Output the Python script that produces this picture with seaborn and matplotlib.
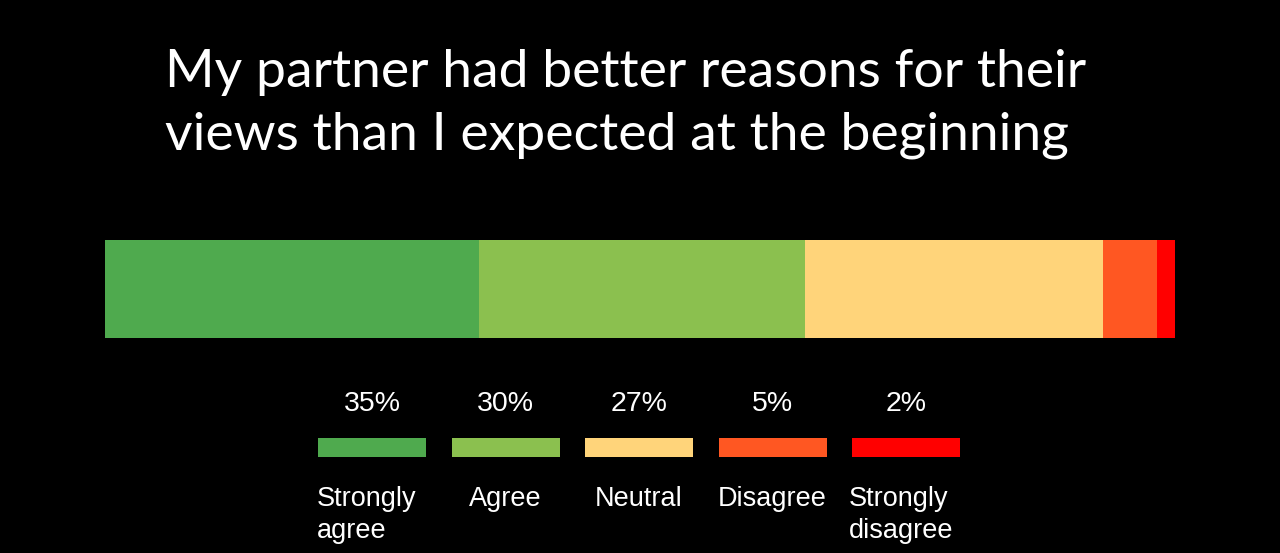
import matplotlib
matplotlib.use("Agg")
import matplotlib.pyplot as plt
import seaborn as sns
import pandas as pd
import numpy as np

# datos
categorias = ["Strongly\nagree", "Agree", "Neutral", "Disagree", "Strongly\ndisagree"]
etiquetas = ["35%", "30%", "27%", "5%", "2%"]
valores = [35.0, 30.4, 27.9, 5.0, 1.7]   # ancho de cada segmento en la barra
colores = ["#4FAA4E", "#8BC04F", "#FFD47A", "#FF5722", "#FF0000"]
titulo = "My partner had better reasons for their\nviews than I expected at the beginning"

sns.set_theme(style="dark", rc={"axes.facecolor": "black", "figure.facecolor": "black"})

W, H = 1280, 553
fig = plt.figure(figsize=(W / 100, H / 100), dpi=100)
fig.patch.set_facecolor("black")

# titulo
fig.text(165 / W, 1 - 49 / H, titulo, color="white", fontsize=38.5, family="Lato",
         fontweight="normal", ha="left", va="top", linespacing=1.42)

# barra apilada principal: barras acumuladas dibujadas de mayor a menor
acum = np.cumsum(valores)
ax = fig.add_axes([105 / W, 1 - 338 / H, 1070 / W, 98 / H])
for i in reversed(range(len(valores))):
    df = pd.DataFrame({"x": [acum[i]], "y": ["q"]})
    sns.barplot(data=df, x="x", y="y", orient="h", color=colores[i], width=1,
                linewidth=0, saturation=1, ax=ax)
ax.set_xlim(0, acum[-1])
ax.set_ylim(0.5, -0.5)
ax.axis("off")

# leyenda con muestras de color
paso = 133.5
ax2 = fig.add_axes([(372 - paso / 2) / W, 1 - 457 / H, 5 * paso / W, 19 / H])
df2 = pd.DataFrame({"c": list(range(5)), "h": [1] * 5})
sns.barplot(data=df2, x="c", y="h", hue="c", palette=colores, width=108 / paso,
            linewidth=0, saturation=1, legend=False, ax=ax2)
ax2.set_xlim(-0.5, 4.5)
ax2.set_ylim(0, 1)
ax2.axis("off")
for i in range(5):
    ax2.text(i, 2.42, etiquetas[i], color="white", fontsize=20.5, family="Liberation Sans",
             ha="center", va="baseline", clip_on=False)
    ax2.text(i - (0.04 if "\n" in categorias[i] else 0), -1.5, categorias[i], color="white",
             fontsize=19.5, family="Liberation Sans", ha="center", va="top",
             multialignment="left", linespacing=1.3, clip_on=False)

fig.savefig("out.png", dpi=100, facecolor="black")
